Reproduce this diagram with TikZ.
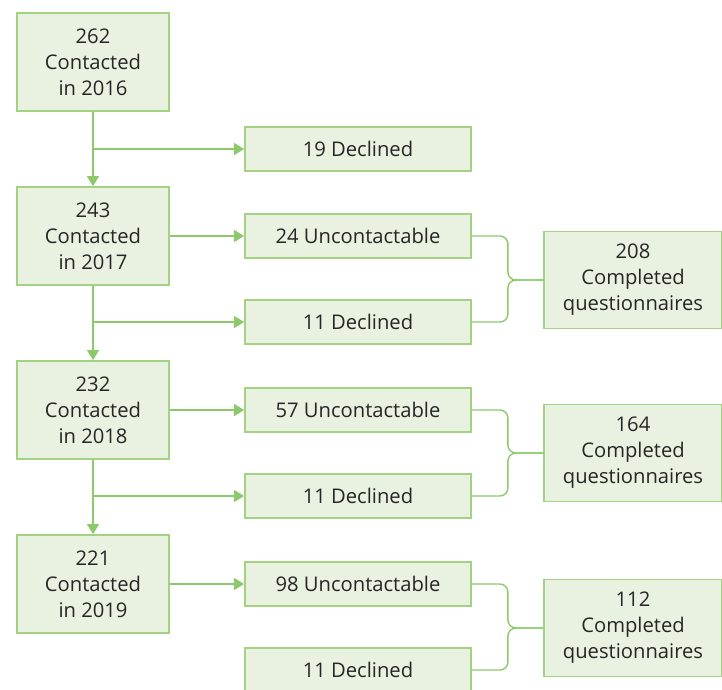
\documentclass[tikz,border=0pt]{standalone}
\usepackage{fontspec}
\setmainfont{Open Sans}
\usepackage{xcolor}
\usetikzlibrary{positioning,calc,arrows.meta}

\definecolor{boxfill}{HTML}{E9F2E0}
\definecolor{boxline}{HTML}{A3D283}
\definecolor{flowline}{HTML}{8CC96A}
\definecolor{txt}{HTML}{262626}

\tikzset{
    box/.style={draw=boxline, line width=1.8pt, fill=boxfill, text=txt, align=center,
        font=\fontsize{20.2}{26}\selectfont, inner sep=0pt},
    yearbox/.style={box, minimum width=152pt, minimum height=98pt},
    outbox/.style={box, minimum width=226pt, minimum height=44pt},
    donebox/.style={box, minimum width=178pt, minimum height=97pt},
    flow/.style={draw=flowline, line width=1.4pt, -{Triangle[width=12pt,length=10pt]}},
    brace/.style={draw=flowline, line width=1.4pt, rounded corners=8pt}
}

\begin{document}
\begin{tikzpicture}[x=1pt,y=-1pt]
    \useasboundingbox (0,0) rectangle (722,689);

    % Contacted per year
    \node[yearbox] (c16) at (93,62)  {262\\Contacted\\in 2016};
    \node[yearbox] (c17) at (93,236) {243\\Contacted\\in 2017};
    \node[yearbox] (c18) at (93,410) {232\\Contacted\\in 2018};
    \node[yearbox] (c19) at (93,584) {221\\Contacted\\in 2019};

    % Losses
    \node[outbox] (d16) at (358,149) {19 Declined};
    \node[outbox] (u17) at (358,236) {24 Uncontactable};
    \node[outbox] (d17) at (358,322) {11 Declined};
    \node[outbox] (u18) at (358,410) {57 Uncontactable};
    \node[outbox] (d18) at (358,496) {11 Declined};
    \node[outbox] (u19) at (358,584) {98 Uncontactable};
    \node[outbox] (d19) at (358,670) {11 Declined};

    % Completed
    \node[donebox] (q17) at (633,280) {208\\Completed\\questionnaires};
    \node[donebox] (q18) at (633,453) {164\\Completed\\questionnaires};
    \node[donebox] (q19) at (633,628) {112\\Completed\\questionnaires};

    % Flow down the years
    \draw[flow] (c16.south) -- (c17.north);
    \draw[flow] (c17.south) -- (c18.north);
    \draw[flow] (c18.south) -- (c19.north);
    \draw[flow] (c16.south |- d16.west) -- (d16.west);
    \draw[flow] (c17.south |- d17.west) -- (d17.west);
    \draw[flow] (c18.south |- d18.west) -- (d18.west);
    \draw[flow] (c17.east) -- (u17.west);
    \draw[flow] (c18.east) -- (u18.west);
    \draw[flow] (c19.east) -- (u19.west);

    % Braces into completed
    \foreach \y in {17,18,19} {
        \draw[brace] (u\y.east) -- ++(36,0) |- (q\y.west);
        \draw[brace] (d\y.east) -- ++(36,0) |- (q\y.west);
    }
\end{tikzpicture}
\end{document}
